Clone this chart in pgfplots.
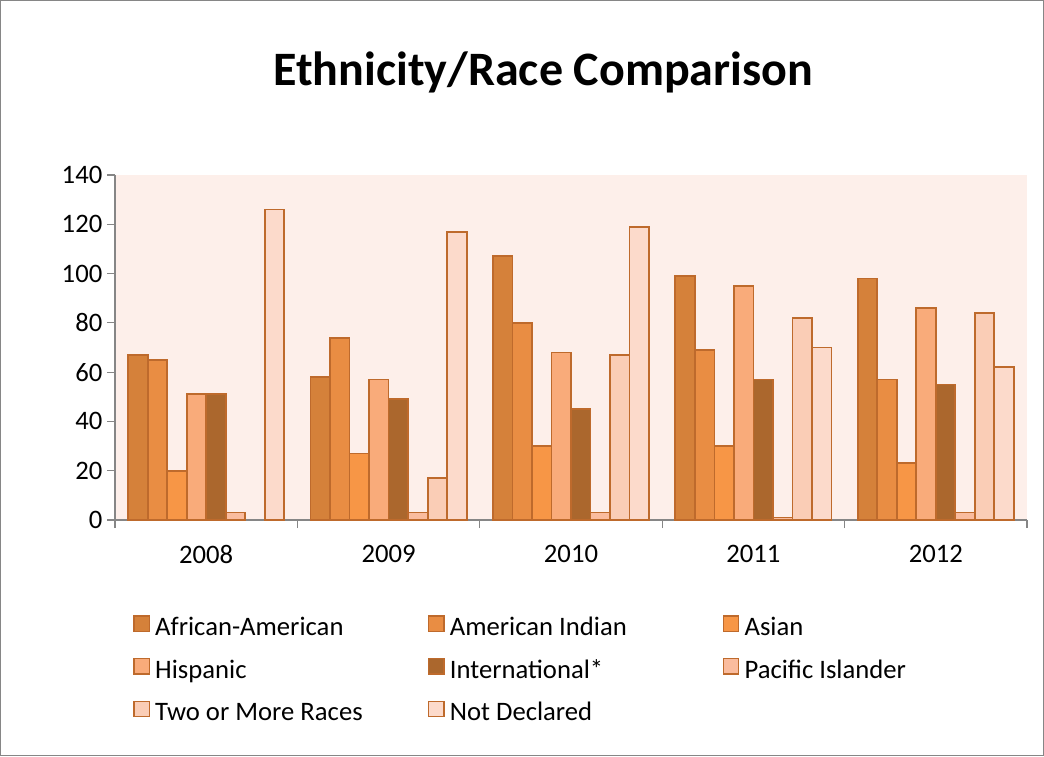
\documentclass[border=0pt]{standalone}
\usepackage{fontspec}
\setmainfont{Carlito}
\usepackage{pgfplots}
\pgfplotsset{compat=1.18}
\definecolor{cAA}{RGB}{213,129,58}
\definecolor{cAI}{RGB}{233,141,67}
\definecolor{cAS}{RGB}{247,150,70}
\definecolor{cHI}{RGB}{249,171,122}
\definecolor{cIN}{RGB}{171,103,45}
\definecolor{cPI}{RGB}{250,188,158}
\definecolor{cTW}{RGB}{250,205,182}
\definecolor{cND}{RGB}{252,218,203}
\definecolor{cedge}{RGB}{190,106,44}
\definecolor{cbg}{RGB}{253,239,234}
\definecolor{caxis}{RGB}{134,134,134}
\newcommand{\lt}[1]{\makebox[204.5pt][l]{\rule[-10pt]{0pt}{31.9pt}#1}}
\begin{document}
\begin{tikzpicture}
\useasboundingbox (0,0) rectangle (783pt,-567pt);
\draw[caxis,line width=0.8pt] (0.5pt,-0.5pt) rectangle (782.5pt,-566.5pt);
\node[font=\fontsize{36}{43}\selectfont\bfseries] at (407.5pt,-54pt) {Ethnicity/Race Comparison};
\begin{axis}[
  at={(86.25pt,-390pt)}, anchor=south west,
  scale only axis, width=684pt, height=258.75pt,
  ybar=0pt, bar width=0.107,
  xmin=-0.5, xmax=4.5, ymin=0, ymax=140,
  xtick={0,1,2,3,4}, xticklabels={2008,2009,2010,2011,2012},
  minor xtick={-0.5,0.5,1.5,2.5,3.5,4.5},
  ytick={0,20,40,60,80,100,120,140},
  tick align=outside, major tick length=6pt, minor tick length=6pt,
  major x tick style={draw=none},
  minor x tick style={draw=caxis, line width=0.8pt},
  ytick style={draw=caxis, line width=0.8pt},
  axis x line*=bottom, axis y line*=left,
  axis line style={-, draw=caxis, line width=0.8pt},
  axis background/.style={fill=cbg},
  ticklabel style={font=\fontsize{20}{24}\selectfont},
  x tick label style={yshift=-9.5pt},
  /pgf/number format/assume math mode=true,
  enlarge x limits=false,
  every axis plot post/.append style={draw=cedge, line width=1.3pt,
    legend image code/.code={\draw[##1, line width=1pt] (0pt,-7pt) rectangle (11.5pt,4.5pt);}},
  legend columns=3,
  legend style={at={(0.0197,-0.2493)}, anchor=north west, draw=none, fill=none,
    inner sep=0pt, row sep=8.6pt, nodes={inner sep=0pt},
    font=\fontsize{20}{24}\selectfont,
    /tikz/every odd column/.style={column sep=4pt}},
  legend cell align=left,
]
\addplot[fill=cAA] coordinates {(0,67) (1,58) (2,107) (3,99) (4,98)};
\addlegendentry{\lt{African-American}}
\addplot[fill=cAI] coordinates {(0,65) (1,74) (2,80) (3,69) (4,57)};
\addlegendentry{\lt{American Indian}}
\addplot[fill=cAS] coordinates {(0,20) (1,27) (2,30) (3,30) (4,23)};
\addlegendentry{\lt{Asian}}
\addplot[fill=cHI] coordinates {(0,51) (1,57) (2,68) (3,95) (4,86)};
\addlegendentry{\lt{Hispanic}}
\addplot[fill=cIN] coordinates {(0,51) (1,49) (2,45) (3,57) (4,55)};
\addlegendentry{\lt{International*}}
\addplot[fill=cPI] coordinates {(0,3) (1,3) (2,3) (3,1) (4,3)};
\addlegendentry{\lt{Pacific Islander}}
\addplot[fill=cTW] coordinates {(1,17) (2,67) (3,82) (4,84)};
\addlegendentry{\lt{Two or More Races}}
\addplot[fill=cND] coordinates {(0,126) (1,117) (2,119) (3,70) (4,62)};
\addlegendentry{\lt{Not Declared}}
\end{axis}
\end{tikzpicture}
\end{document}
